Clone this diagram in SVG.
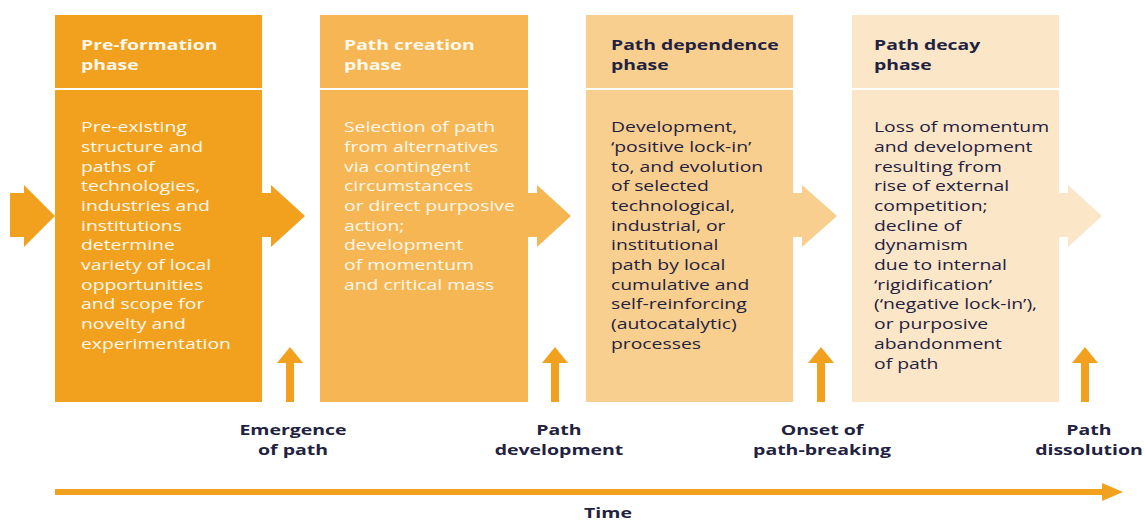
<svg xmlns="http://www.w3.org/2000/svg" width="1145" height="523" viewBox="0 0 1145 523">
<style>
.t{font-family:"Open Sans","Liberation Sans",sans-serif;font-size:15px}
.b{font-weight:bold}
.w{fill:#fff8ec}
.d{fill:#1f2240}
.lab{font-family:"Open Sans","Liberation Sans",sans-serif;font-size:15px;font-weight:bold;fill:#1f2240;text-anchor:middle}
.c1{fill:#F2A11F}
.c2{fill:#F6B654}
.c3{fill:#F8CF8F}
.c4{fill:#FCE6C8}
</style>
<rect width="1145" height="523" fill="#ffffff"/>
<g id="phase1">
<rect class="c1" x="55" y="15" width="207" height="73"/>
<rect class="c1" x="55" y="90" width="207" height="312"/>
<g transform="translate(81 0) scale(1.29 1)">
<text class="t b w"><tspan x="0" y="50">Pre-formation</tspan><tspan x="0" y="70">phase</tspan></text>
<text class="t w"><tspan x="0" y="132">Pre-existing</tspan><tspan x="0" y="152">structure and</tspan><tspan x="0" y="172">paths of</tspan><tspan x="0" y="191">technologies,</tspan><tspan x="0" y="211">industries and</tspan><tspan x="0" y="231">institutions</tspan><tspan x="0" y="250">determine</tspan><tspan x="0" y="270">variety of local</tspan><tspan x="0" y="290">opportunities</tspan><tspan x="0" y="309">and scope for</tspan><tspan x="0" y="329">novelty and</tspan><tspan x="0" y="349">experimentation</tspan></text>
</g>
</g>
<g id="phase2">
<rect class="c2" x="320" y="15" width="208" height="73"/>
<rect class="c2" x="320" y="90" width="208" height="312"/>
<g transform="translate(344 0) scale(1.29 1)">
<text class="t b w"><tspan x="0" y="50">Path creation</tspan><tspan x="0" y="70">phase</tspan></text>
<text class="t w"><tspan x="0" y="132">Selection of path</tspan><tspan x="0" y="152">from alternatives</tspan><tspan x="0" y="172">via contingent</tspan><tspan x="0" y="191">circumstances</tspan><tspan x="0" y="211">or direct purposive</tspan><tspan x="0" y="231">action;</tspan><tspan x="0" y="250">development</tspan><tspan x="0" y="270">of momentum</tspan><tspan x="0" y="290">and critical mass</tspan></text>
</g>
</g>
<g id="phase3">
<rect class="c3" x="586" y="15" width="207" height="73"/>
<rect class="c3" x="586" y="90" width="207" height="312"/>
<g transform="translate(611 0) scale(1.29 1)">
<text class="t b d"><tspan x="0" y="50">Path dependence</tspan><tspan x="0" y="70">phase</tspan></text>
<text class="t d"><tspan x="0" y="132">Development,</tspan><tspan x="0" y="152">‘positive lock-in’</tspan><tspan x="0" y="172">to, and evolution</tspan><tspan x="0" y="191">of selected</tspan><tspan x="0" y="211">technological,</tspan><tspan x="0" y="231">industrial, or</tspan><tspan x="0" y="250">institutional</tspan><tspan x="0" y="270">path by local</tspan><tspan x="0" y="290">cumulative and</tspan><tspan x="0" y="309">self-reinforcing</tspan><tspan x="0" y="329">(autocatalytic)</tspan><tspan x="0" y="349">processes</tspan></text>
</g>
</g>
<g id="phase4">
<rect class="c4" x="852" y="15" width="207" height="73"/>
<rect class="c4" x="852" y="90" width="207" height="312"/>
<g transform="translate(874 0) scale(1.29 1)">
<text class="t b d"><tspan x="0" y="50">Path decay</tspan><tspan x="0" y="70">phase</tspan></text>
<text class="t d"><tspan x="0" y="132">Loss of momentum</tspan><tspan x="0" y="152">and development</tspan><tspan x="0" y="172">resulting from</tspan><tspan x="0" y="191">rise of external</tspan><tspan x="0" y="211">competition;</tspan><tspan x="0" y="231">decline of</tspan><tspan x="0" y="250">dynamism</tspan><tspan x="0" y="270">due to internal</tspan><tspan x="0" y="290">‘rigidification’</tspan><tspan x="0" y="309">(‘negative lock-in’),</tspan><tspan x="0" y="329">or purposive</tspan><tspan x="0" y="349">abandonment</tspan><tspan x="0" y="369">of path</tspan></text>
</g>
</g>
<g id="connectors">
<polygon class="c1" points="10,193 24,193 24,185 55,216 24,247 24,237 10,237"/>
<polygon class="c1" points="262,193 271,193 271,185 305,216 271,247 271,237 262,237"/>
<polygon class="c2" points="528,193 537,193 537,185 571,216 537,247 537,237 528,237"/>
<polygon class="c3" points="793,193 802,193 802,185 837,216 802,247 802,237 793,237"/>
<polygon class="c4" points="1059,193 1068,193 1068,185 1102,216 1068,247 1068,237 1059,237"/>
<g class="c1">
<polygon points="286,402 286,363 277,363 290,347 303,363 294,363 294,402"/>
<polygon points="551,402 551,363 542,363 555,347 568,363 559,363 559,402"/>
<polygon points="817,402 817,363 808,363 821,347 834,363 825,363 825,402"/>
<polygon points="1081,402 1081,363 1072,363 1085,347 1098,363 1089,363 1089,402"/>
<polygon points="55,489 1102,489 1102,483 1123,492 1102,501 1102,495 55,495"/>
</g>
</g>
<g id="labels">
<g transform="translate(293 0) scale(1.3 1)"><text class="lab"><tspan x="0" y="435">Emergence</tspan><tspan x="0" y="455">of path</tspan></text></g>
<g transform="translate(559 0) scale(1.3 1)"><text class="lab"><tspan x="0" y="435">Path</tspan><tspan x="0" y="455">development</tspan></text></g>
<g transform="translate(822 0) scale(1.3 1)"><text class="lab"><tspan x="0" y="435">Onset of</tspan><tspan x="0" y="455">path-breaking</tspan></text></g>
<g transform="translate(1089 0) scale(1.3 1)"><text class="lab"><tspan x="0" y="435">Path</tspan><tspan x="0" y="455">dissolution</tspan></text></g>
<g transform="translate(608 0) scale(1.3 1)"><text class="lab"><tspan x="0" y="518">Time</tspan></text></g>
</g>
</svg>
